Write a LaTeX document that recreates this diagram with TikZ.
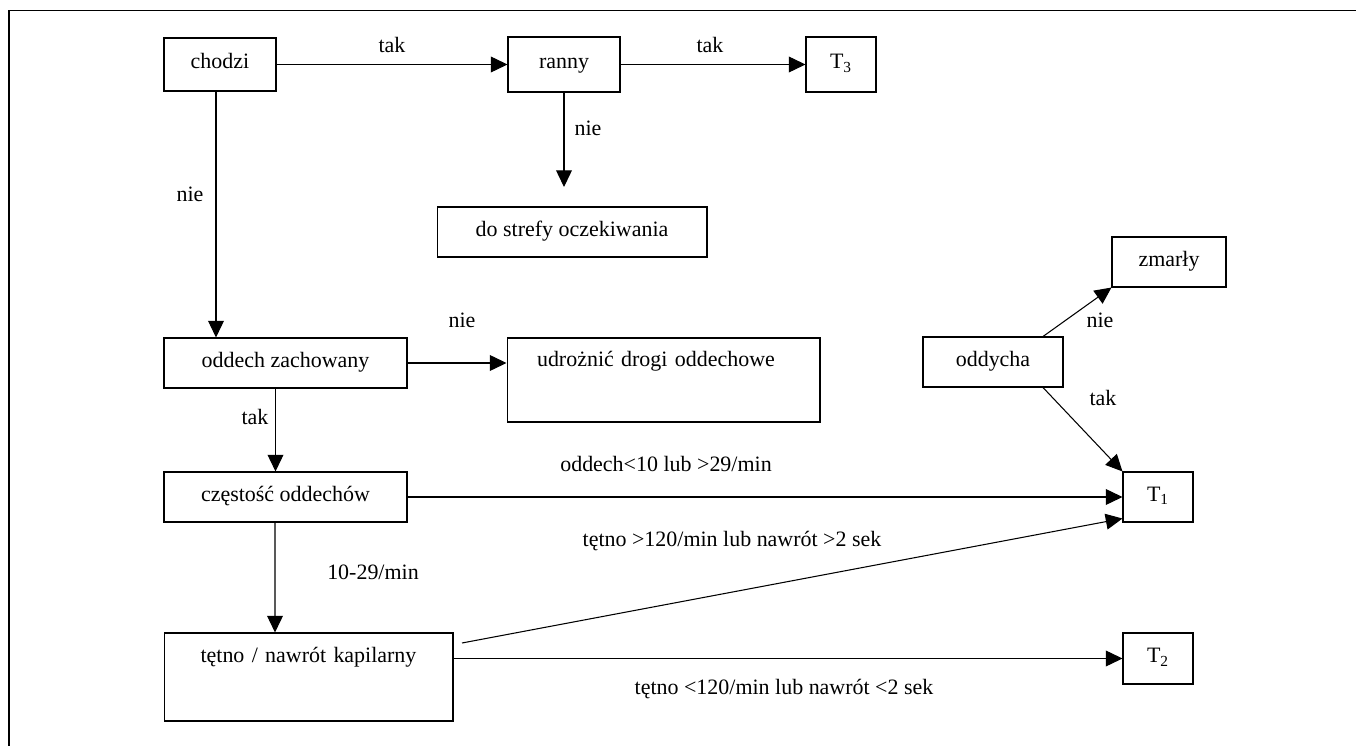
\documentclass[tikz,border=0pt]{standalone}
\usepackage{fontspec}
\setmainfont{Liberation Serif}
\usepackage{tikz}
\usetikzlibrary{arrows.meta,positioning}
\tikzset{>={Triangle[length=9.5pt,width=9pt]}}
\tikzset{box/.style={draw, line width=0.6pt, inner sep=0pt, minimum height=1cm, text height=0.7em, text depth=0.2em},
         lbl/.style={inner sep=0pt, text height=0.7em, text depth=0pt}}

\begin{document}
\begin{tikzpicture}[x=0.02cm, y=-0.02cm, font=\fontsize{12.5}{15}\selectfont, line width=0.6pt]

\useasboundingbox (0,0) rectangle (1356,746);
\draw [line width=1pt] (9,746) -- (9,10.5) -- (1356,10.5);

% boxes
\node [box, minimum width=2.24cm, minimum height=1.06cm] (chodzi) at (220,64.5) {chodzi};
\node [box, minimum width=2.24cm, minimum height=1.1cm] (ranny) at (564,64.5) {ranny};
\node [box, minimum width=1.4cm, minimum height=1.1cm] (t3) at (841,64.5) {T\textsubscript{3}};
\node [box, minimum width=5.4cm] (strefa) at (572,232) {do strefy oczekiwania};
\node [box, minimum width=4.86cm] (oddech) at (285.5,363) {oddech zachowany};
\node [box, text width=5.06cm, inner xsep=0.6cm, align=left, text height=0.56cm, text depth=1.12cm] (udroznic) at (663.5,380) {udrożnić drogi oddechowe};
\node [box, minimum width=4.86cm] (czestosc) at (285.5,497) {częstość oddechów};
\node [box, text width=5.78cm, align=center, text height=0.58cm, text depth=1.18cm] (tetno) at (308.5,677) {tętno / nawrót kapilarny};
\node [box, minimum width=1.4cm] (t1) at (1158,497) {T\textsubscript{1}};
\node [box, minimum width=1.4cm, minimum height=1.02cm] (t2) at (1158,658.5) {T\textsubscript{2}};
\node [box, minimum width=2.8cm] (oddycha) at (993,362) {oddycha};
\node [box, minimum width=2.28cm] (zmarly) at (1169,262) {zmarły};

\coordinate (rannyend) at (564,187);
\coordinate (tetnostart) at (462,643);

% labels
\node [lbl] (takranny) at (392,46) {tak};
\node [lbl] (takt3) at (710,46) {tak};
\node [lbl] (nieranny) at (588,129) {nie};
\node [lbl] (niechodzi) at (190,195) {nie};
\node [lbl] (nieoddech) at (462,321) {nie};
\node [lbl] (takoddech) at (255,418) {tak};
\node [lbl] (czestoscT1) at (666,465) {oddech<10 lub >29/min};
\node [lbl] (czestoscok) at (373,573) {10-29/min};
\node [lbl] (tetnoT1) at (732,540) {tętno >120/min lub nawrót >2 sek};
\node [lbl] (tetnoT2) at (784,688) {tętno <120/min lub nawrót <2 sek};
\node [lbl] (nieoddycha) at (1100,321) {nie};
\node [lbl] (takoddycha) at (1103,399) {tak};

\begin{scope}[line width=0.6pt]
\draw[->] (chodzi.east) -- (ranny.west);
\draw[->] (ranny.east) -- (t3.west);
\draw[->] (ranny.south) -- (rannyend);
\draw[->] ([xshift=-0.08cm]chodzi.south) -- ([xshift=-0.08cm]chodzi.south |- oddech.north);
\draw[->] (oddech.east) -- (udroznic.west |- oddech.east);
\draw[->] ([xshift=-0.2cm]oddech.south) -- ([xshift=-0.2cm]czestosc.north);
\draw[->] (czestosc.east) -- (t1.west);
\draw[->] ([xshift=-0.21cm]czestosc.south) -- ([xshift=-0.67cm]tetno.north);
\draw[->] (tetnostart) -- ([yshift=0.08cm]t1.south west);
\draw[->] (t2.west -| tetno.east) -- (t2.west);
\draw[->] ([xshift=1cm]oddycha.north) -- (zmarly.south west);
\draw[->] ([xshift=1cm]oddycha.south) -- (t1.north west);
\end{scope}

\end{tikzpicture}
\end{document}
